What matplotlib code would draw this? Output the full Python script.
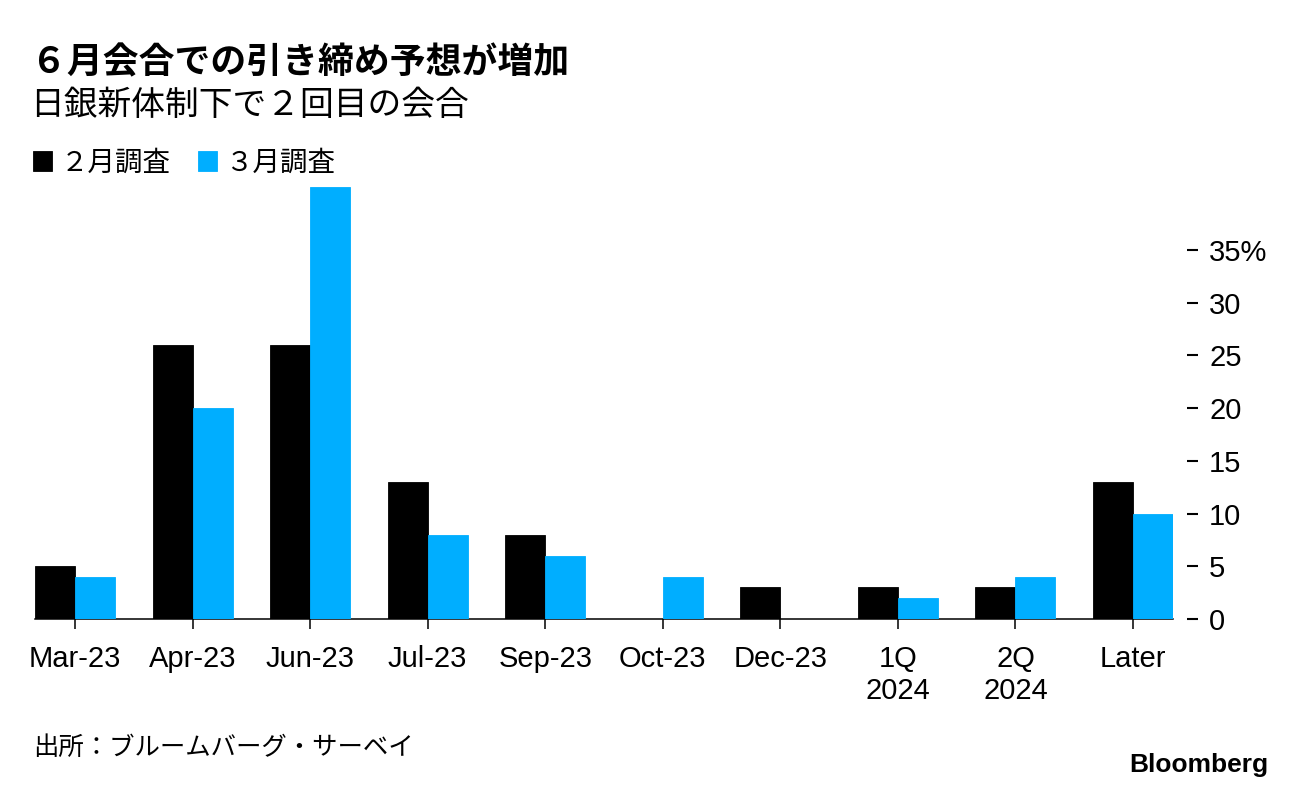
import numpy as np
import matplotlib
matplotlib.use("Agg")
import matplotlib.pyplot as plt

# data (percent of respondents)
categories = ["Mar-23", "Apr-23", "Jun-23", "Jul-23", "Sep-23", "Oct-23",
              "Dec-23", "1Q\n2024", "2Q\n2024", "Later"]
feb_survey = [5, 26, 26, 13, 8, 0, 3, 3, 3, 13]
mar_survey = [4, 20, 41, 8, 6, 4, 0, 2, 4, 10]
series_names = ["２月調査", "３月調査"]
y_ticks = [0, 5, 10, 15, 20, 25, 30, 35]

BLACK = "#000000"
BLUE = "#00AEFF"
CJK = ["Noto Sans CJK JP", "DejaVu Sans"]
LATIN = ["Liberation Sans", "Noto Sans CJK JP", "DejaVu Sans"]

plt.rcParams["font.family"] = LATIN


def plot_chart():
    fig = plt.figure(figsize=(12.96, 7.90), dpi=100)
    ax = fig.add_axes([35 / 1296, 1 - 619 / 790, (1173 - 35) / 1296, (619 - 186) / 790])

    x = np.arange(len(categories))
    width = 0.34
    b1 = ax.bar(x - width / 2, feb_survey, width, color=BLACK, edgecolor=BLACK,
                linewidth=0.6, label=series_names[0], zorder=3)
    b2 = ax.bar(x + width / 2, mar_survey, width, color=BLUE, edgecolor=BLUE,
                linewidth=0.6, label=series_names[1], zorder=3)

    ax.set_xlim(-0.34, len(categories) - 1 + 0.34)
    ax.set_ylim(0, 41.08)

    for side in ["top", "left"]:
        ax.spines[side].set_visible(False)
    # keep the right spine invisible but pushed out so the tick dashes float
    ax.spines["right"].set_position(("outward", 10))
    ax.spines["right"].set_visible(False)
    ax.spines["bottom"].set_linewidth(1.1)
    ax.spines["bottom"].set_zorder(2)

    ax.set_xticks(x)
    ax.set_xticklabels(categories, fontsize=21, linespacing=1.2)
    ax.tick_params(axis="x", direction="out", length=7.5, width=1.1, pad=11)

    ax.yaxis.tick_right()
    ax.set_yticks(y_ticks)
    labels = [str(v) for v in y_ticks]
    labels[-1] = "35%"
    ax.set_yticklabels(labels, fontsize=21)
    ax.tick_params(axis="y", direction="out", length=8, width=1.5, pad=8)

    fig.text(31 / 1296, 1 - 63 / 790, "６月会合での引き締め予想が増加", family=CJK,
             fontsize=25.8, fontweight="bold", va="center", ha="left")
    fig.text(30 / 1296, 1 - 105 / 790, "日銀新体制下で２回目の会合", family=CJK,
             fontsize=24.3, va="center", ha="left")

    fig.legend(handles=[b1, b2], loc="center left",
               bbox_to_anchor=(33 / 1296, 1 - 163 / 790), ncol=2,
               frameon=False, borderpad=0, borderaxespad=0,
               handlelength=0.7, handleheight=0.7, handletextpad=0.3,
               columnspacing=1.0, prop={"family": CJK, "size": 19.8})

    fig.text(33 / 1296, 1 - 748 / 790, "出所：ブルームバーグ・サーベイ", family=CJK,
             fontsize=18.3, va="center", ha="left")
    fig.text(1268 / 1296, 1 - 765 / 790, "Bloomberg",
             family=["Liberation Sans"],
             fontsize=19, fontweight="bold", va="center", ha="right")

    fig.savefig("out.png", dpi=100)


def main():
    plot_chart()


if __name__ == "__main__":
    main()
